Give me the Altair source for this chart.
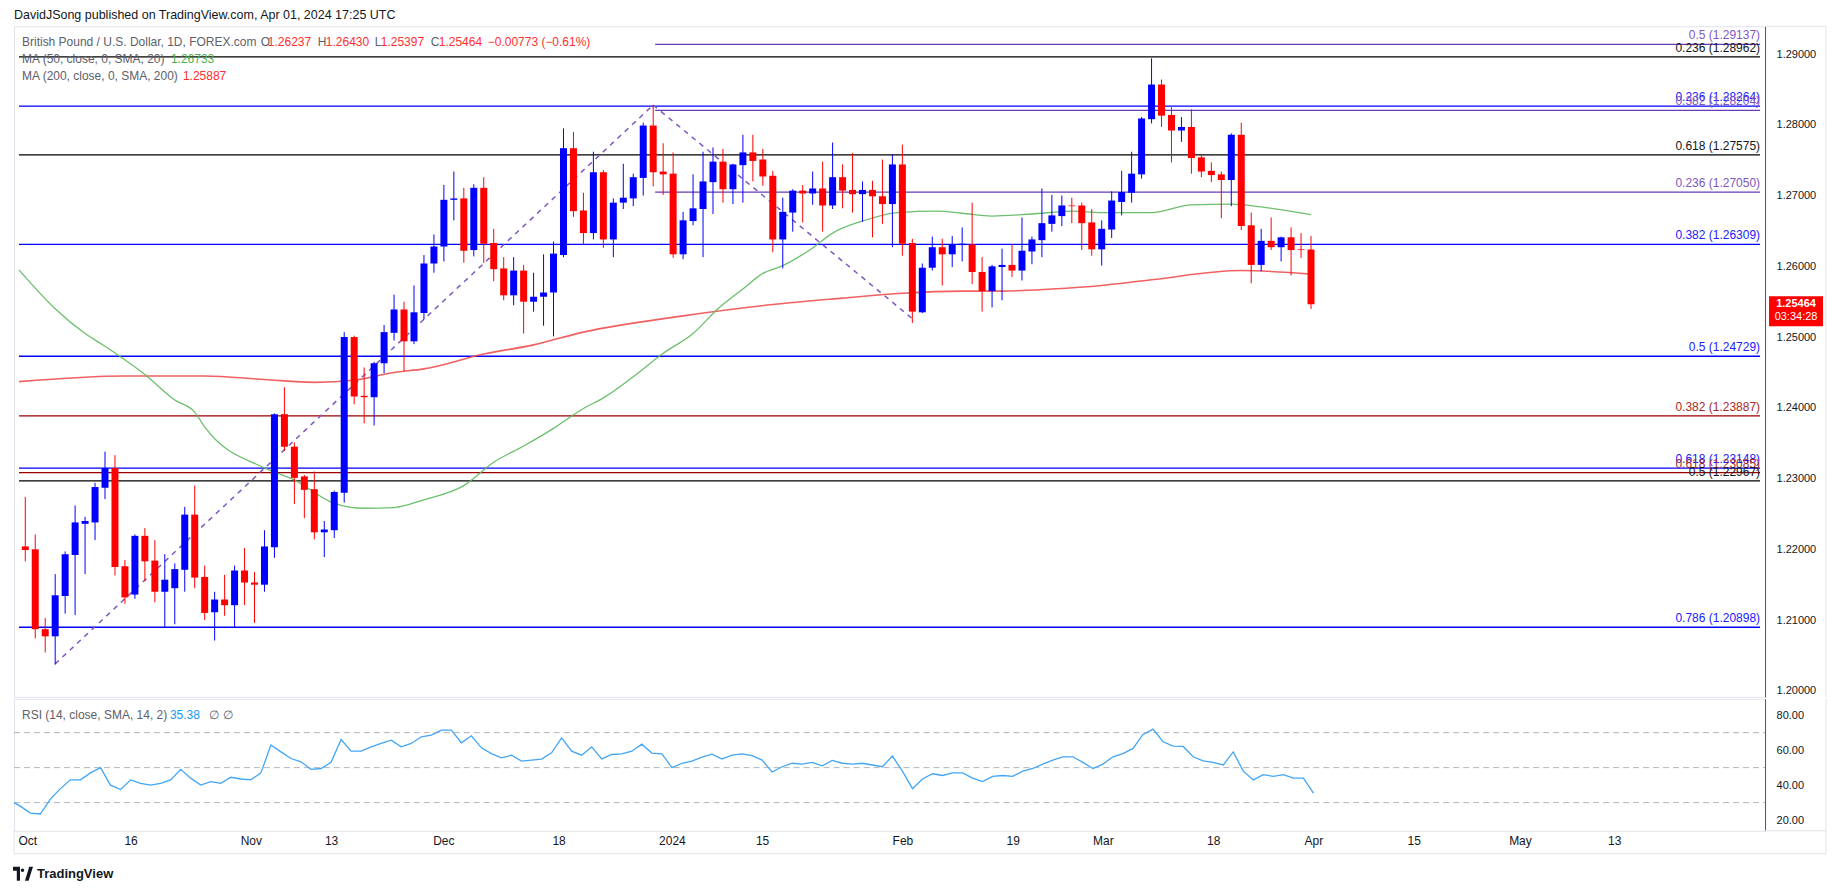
import altair as alt
import pandas as pd

FONT = "Liberation Sans"

# ---------------- data (bar index 0 = 2023-09-29) ----------------
opens = [1.2204, 1.2200, 1.2087, 1.2077, 1.2134, 1.2192, 1.2236, 1.2238, 1.2287, 1.2315,
         1.2176, 1.2136, 1.2219, 1.2184, 1.2140, 1.2145, 1.2171, 1.2249, 1.2161, 1.2111,
         1.2129, 1.2121, 1.2170, 1.2153, 1.2150, 1.2203, 1.2391, 1.2345, 1.2303, 1.2285,
         1.2224, 1.2227, 1.2280, 1.2500, 1.2417, 1.2415, 1.2463, 1.2506, 1.2539, 1.2494,
         1.2534, 1.2604, 1.2628, 1.2694, 1.2696, 1.2623, 1.2711, 1.2633, 1.2597, 1.2559,
         1.2594, 1.2550, 1.2557, 1.2563, 1.2616, 1.2767, 1.2679, 1.2647, 1.2733, 1.2638,
         1.2690, 1.2696, 1.2725, 1.2799, 1.2734, 1.2731, 1.2617, 1.2664, 1.2681, 1.2719,
         1.2748, 1.2709, 1.2743, 1.2761, 1.2751, 1.2728, 1.2638, 1.2676, 1.2707, 1.2703,
         1.2710, 1.2686, 1.2726, 1.2708, 1.2702, 1.2708, 1.2699, 1.2688, 1.2744, 1.2633,
         1.2535, 1.2598, 1.2627, 1.2617, 1.2630, 1.2631, 1.2592, 1.2565, 1.2599, 1.2602,
         1.2594, 1.2621, 1.2637, 1.2660, 1.2671, 1.2686, 1.2686, 1.2662, 1.2624, 1.2652,
         1.2691, 1.2704, 1.2730, 1.2808, 1.2857, 1.2814, 1.2792, 1.2797, 1.2754, 1.2735,
         1.2730, 1.2722, 1.2786, 1.2658, 1.2602, 1.2636, 1.2627, 1.2641, 1.2624, 1.26237]
highs = [1.2274, 1.2221, 1.2103, 1.2165, 1.2197, 1.2262, 1.2246, 1.2294, 1.2338, 1.2333,
         1.2185, 1.2221, 1.2230, 1.2213, 1.2193, 1.2180, 1.2260, 1.2290, 1.2177, 1.2140,
         1.2164, 1.2177, 1.2202, 1.2168, 1.2227, 1.2392, 1.2429, 1.2351, 1.2305, 1.2310,
         1.2240, 1.2283, 1.2507, 1.2502, 1.2457, 1.2465, 1.2517, 1.2560, 1.2550, 1.2573,
         1.2616, 1.2645, 1.2715, 1.2734, 1.2711, 1.2716, 1.2726, 1.2653, 1.2613, 1.2613,
         1.2602, 1.2591, 1.2617, 1.2635, 1.2795, 1.2790, 1.2704, 1.2762, 1.2736, 1.2696,
         1.2745, 1.2731, 1.2803, 1.2828, 1.2774, 1.2761, 1.2677, 1.2730, 1.2762, 1.2768,
         1.2766, 1.2745, 1.2786, 1.2786, 1.2766, 1.2735, 1.2697, 1.2709, 1.2715, 1.2734,
         1.2748, 1.2775, 1.2744, 1.2760, 1.2720, 1.2721, 1.2751, 1.2758, 1.2772, 1.2639,
         1.2604, 1.2642, 1.2639, 1.2643, 1.2655, 1.2690, 1.2613, 1.2602, 1.2625, 1.2631,
         1.2669, 1.2642, 1.2710, 1.2701, 1.2700, 1.2697, 1.2690, 1.2681, 1.2665, 1.2706,
         1.2735, 1.2762, 1.2811, 1.2894, 1.2864, 1.2825, 1.2811, 1.2822, 1.2759, 1.2747,
         1.2734, 1.2788, 1.2803, 1.2676, 1.2653, 1.2669, 1.2642, 1.2655, 1.2647, 1.26430]
lows = [1.2183, 1.2074, 1.2054, 1.2037, 1.2109, 1.2107, 1.2165, 1.2213, 1.2271, 1.2163,
        1.2123, 1.2130, 1.2155, 1.2125, 1.2090, 1.2094, 1.2140, 1.2145, 1.2100, 1.2071,
        1.2106, 1.2090, 1.2121, 1.2096, 1.2140, 1.2188, 1.2339, 1.2264, 1.2244, 1.2214,
        1.2189, 1.2216, 1.2266, 1.2405, 1.2378, 1.2375, 1.2449, 1.2495, 1.2452, 1.2490,
        1.2525, 1.2591, 1.2607, 1.2665, 1.2605, 1.2614, 1.2605, 1.2579, 1.2552, 1.2545,
        1.2505, 1.2536, 1.2516, 1.2501, 1.2613, 1.2670, 1.2631, 1.2638, 1.2626, 1.2613,
        1.2681, 1.2685, 1.2700, 1.2713, 1.2701, 1.2612, 1.2610, 1.2658, 1.2613, 1.2674,
        1.2690, 1.2688, 1.2690, 1.2720, 1.2714, 1.2620, 1.2597, 1.2649, 1.2662, 1.2687,
        1.2649, 1.2681, 1.2682, 1.2676, 1.2663, 1.2641, 1.2660, 1.2627, 1.2615, 1.2520,
        1.2534, 1.2594, 1.2573, 1.2599, 1.2607, 1.2575, 1.2536, 1.2542, 1.2552, 1.2585,
        1.2580, 1.2603, 1.2613, 1.2649, 1.2657, 1.2661, 1.2623, 1.2615, 1.2601, 1.2640,
        1.2672, 1.2690, 1.2724, 1.2802, 1.2797, 1.2747, 1.2776, 1.2731, 1.2726, 1.2719,
        1.2668, 1.2685, 1.2651, 1.2576, 1.2593, 1.2623, 1.2607, 1.2587, 1.2612, 1.25397]
closes = [1.2199, 1.2087, 1.2077, 1.2135, 1.2193, 1.2238, 1.2240, 1.2288, 1.2315, 1.2175,
          1.2132, 1.2219, 1.2183, 1.2140, 1.2157, 1.2172, 1.2249, 1.2160, 1.2110, 1.2129,
          1.2121, 1.2170, 1.2153, 1.2150, 1.2204, 1.2391, 1.2345, 1.2301, 1.2284, 1.2224,
          1.2228, 1.2281, 1.2500, 1.2416, 1.2415, 1.2463, 1.2507, 1.2539, 1.2494, 1.2535,
          1.2604, 1.2628, 1.2694, 1.2696, 1.2622, 1.2711, 1.2632, 1.2596, 1.2559, 1.2594,
          1.2550, 1.2557, 1.2563, 1.2618, 1.2767, 1.2678, 1.2647, 1.2733, 1.2638, 1.2690,
          1.2697, 1.2726, 1.2799, 1.2733, 1.2730, 1.2617, 1.2665, 1.2682, 1.2720, 1.2748,
          1.2709, 1.2744, 1.2761, 1.2749, 1.2727, 1.2638, 1.2677, 1.2707, 1.2703, 1.2710,
          1.2686, 1.2726, 1.2707, 1.2702, 1.2708, 1.2699, 1.2688, 1.2744, 1.2632, 1.2536,
          1.2598, 1.2627, 1.2617, 1.2631, 1.2632, 1.2592, 1.2565, 1.2600, 1.2602, 1.2594,
          1.2622, 1.2638, 1.2661, 1.2672, 1.2686, 1.2685, 1.2661, 1.2624, 1.2653, 1.2693,
          1.2705, 1.2731, 1.2809, 1.2857, 1.2813, 1.2792, 1.2797, 1.2753, 1.2734, 1.2729,
          1.2722, 1.2786, 1.2657, 1.2602, 1.2636, 1.2627, 1.2641, 1.2623, 1.2623, 1.25464]

ma50_idx = [-0.63, 3, 6, 8, 12, 15, 17, 18, 24, 27, 31, 34, 37, 40, 44, 47, 50, 53, 56, 58,
            61, 64, 67, 69.5, 72, 74, 76, 79, 81, 84, 87.5, 91.5, 94, 97, 101, 105, 108,
            113, 117, 121, 124, 129]
ma50_val = [1.2595, 1.2540, 1.2505, 1.2487, 1.2447, 1.2411, 1.2394, 1.2373, 1.2315, 1.2298,
            1.2265, 1.2258, 1.2259, 1.2270, 1.2290, 1.2323, 1.2346, 1.2371, 1.2399, 1.2414,
            1.2444, 1.2477, 1.2505, 1.2540, 1.2568, 1.2590, 1.2601, 1.2626, 1.2647, 1.2664,
            1.2676, 1.2678, 1.2675, 1.2671, 1.2674, 1.2678, 1.2676, 1.2676, 1.2687, 1.2688,
            1.2684, 1.2673]

ma200_idx = [-0.63, 10, 18, 24, 29, 33, 37, 40, 46, 51, 56, 66, 75, 82, 88, 94, 98, 103,
             108, 113, 122, 129]
ma200_val = [1.2437, 1.2445, 1.2445, 1.2440, 1.2436, 1.2439, 1.2450, 1.2455, 1.2476, 1.2489,
             1.2507, 1.2530, 1.2546, 1.2555, 1.2562, 1.2565, 1.2565, 1.2568, 1.2573, 1.2581,
             1.2594, 1.2589]

rsi_idx = [-0.63] + list(range(130))
rsi_val = [30, 28, 24, 23.5, 32, 38, 43, 43, 47, 50, 40, 37.5, 43, 41, 40, 41, 43, 49, 44, 40,
           42, 41, 44.5, 43.5, 43, 47, 62.9, 59, 55.2, 53.3, 49, 49.5, 53, 66.1, 59.4, 59.4,
           61.9, 63.8, 65.7, 61.9, 63.8, 67.6, 68.6, 71.4, 71.4, 64.2, 68.2, 61.3, 58, 55.6,
           57.1, 53.7, 54.3, 54.9, 58.5, 67.0, 59.4, 57.1, 61.9, 55, 57.5, 57.9, 59.4, 63.4,
           58.3, 57.9, 50, 52.5, 53.7, 56, 57.7, 54.9, 57.1, 57.9, 56.8, 54.3, 47.5, 50.5,
           52.5, 52, 53, 51, 54.1, 52.5, 52, 52.5, 51.5, 50.5, 56.6, 48, 38, 43.5, 46.5, 45.5,
           47, 47, 44, 42, 45, 45.5, 45, 48, 49.5, 52, 54.3, 56.2, 56.2, 53, 49.5, 52, 56.2,
           58, 61, 69, 72, 64.8, 62.3, 62.1, 56.2, 53.9, 53, 51.5, 59, 48, 43, 46, 45, 46, 44,
           44, 35.38]

fib_levels = [1.29137, 1.28962, 1.28264, 1.28204, 1.27575, 1.27050, 1.26309, 1.24729,
              1.23887, 1.23148, 1.23085, 1.22967, 1.20898]
fib_labels = ["0.5 (1.29137)", "0.236 (1.28962)", "0.236 (1.28264)", "0.382 (1.28204)",
              "0.618 (1.27575)", "0.236 (1.27050)", "0.382 (1.26309)", "0.5 (1.24729)",
              "0.382 (1.23887)", "0.618 (1.23148)", "0.618 (1.23085)", "0.5 (1.22967)",
              "0.786 (1.20898)"]
fib_start = [63.2, -0.63, -0.63, 63.2, -0.63, 63.2, -0.63, -0.63, -0.63, -0.63, -0.63, -0.63, -0.63]
fib_line_col = ["#673ab7", "#000000", "#0000ff", "#673ab7", "#000000", "#673ab7", "#0000ff",
                "#0000ff", "#990000", "#0000ff", "#990000", "#000000", "#0000ff"]
fib_text_col = ["#7e57c2", "#131722", "#2020ff", "#7e57c2", "#131722", "#7e57c2", "#2020ff",
                "#2020ff", "#a52a2a", "#2020ff", "#a52a2a", "#131722", "#2020ff"]

trend_seg = ["a", "a", "b", "b"]
trend_idx = [3, 63, 63, 89]
trend_val = [1.2038, 1.2828, 1.2828, 1.2526]

price_ticks = [1.20000, 1.20500, 1.21000, 1.21500, 1.22000, 1.22500, 1.23000, 1.23500,
               1.24000, 1.24500, 1.25000, 1.25500, 1.26000, 1.26500, 1.27000, 1.27500,
               1.28000, 1.28500, 1.29000]
rsi_ticks = [20, 40, 60, 80]
rsi_levels = [70, 50, 30]
time_tick_idx = [0.7, 11, 23, 31, 42.2, 53.7, 65, 74, 88, 99, 108, 119, 129, 139, 149.6, 159]
time_tick_lab = ["Oct", "16", "Nov", "13", "Dec", "18", "2024", "15", "Feb", "19", "Mar",
                 "18", "Apr", "15", "May", "13"]

# ---------------- frames ----------------
candles = pd.DataFrame({"i": list(range(130)), "o": opens, "h": highs, "l": lows, "c": closes})
candles["dir"] = ["up" if c >= o else "down" for o, c in zip(opens, closes)]
ma50 = pd.DataFrame({"i": ma50_idx, "v": ma50_val})
ma200 = pd.DataFrame({"i": ma200_idx, "v": ma200_val})
rsi = pd.DataFrame({"i": rsi_idx, "v": rsi_val})
fib = pd.DataFrame({"level": fib_levels, "label": fib_labels, "x0": fib_start,
                    "x1": [174.05] * len(fib_levels), "lc": fib_line_col, "tc": fib_text_col})
trend = pd.DataFrame({"seg": trend_seg, "i": trend_idx, "v": trend_val})
rsi_lv = pd.DataFrame({"v": rsi_levels})
last = pd.DataFrame({"p": [closes[-1]], "txt": ["1.25464"], "cd": ["03:34:28"]})

W = 1752
H_MAIN = 671
H_RSI = 132
FRAME_R = 1813
FRAME = "#e0e3eb"
xs = alt.Scale(domain=[-0.63, 174.05], nice=False, zero=False)
ys = alt.Scale(domain=[1.19914, 1.29394], nice=False, zero=False)
rs = alt.Scale(domain=[13.9, 89.3], nice=False, zero=False)
AX = alt.X("i:Q", scale=xs, axis=None)

def T(txt, sx, sy, color, size=12, weight="normal", top=26, align="left"):
    return alt.Chart(pd.DataFrame({"t": [txt]})).mark_text(
        align=align, baseline="middle", font=FONT, fontSize=size, fontWeight=weight, color=color
    ).encode(x=alt.value(sx - 10), y=alt.value(sy - top), text="t:N")

def R(x1, y1, x2, y2):
    return alt.Chart(pd.DataFrame({"k": [0]})).mark_rule(color=FRAME, strokeWidth=1).encode(
        x=alt.value(x1), y=alt.value(y1), x2=alt.value(x2), y2=alt.value(y2))

GRAY = "#5d606b"
RED = "#ff2e2e"

price_axis = alt.Axis(orient="right", values=price_ticks, format=".5f", grid=False, ticks=False,
                      domain=True, domainColor="#50535e", labelColor="#131722", labelFont=FONT,
                      labelFontSize=11, labelPadding=11, title=None)

fib_rules = alt.Chart(fib).mark_rule(strokeWidth=1.3).encode(
    x=alt.X("x0:Q", scale=xs, axis=None), x2="x1:Q",
    y=alt.Y("level:Q", scale=ys, axis=price_axis), color=alt.Color("lc:N", scale=None))
fib_text = alt.Chart(fib).mark_text(align="right", baseline="bottom", dy=-2, font=FONT, fontSize=12).encode(
    x=alt.value(1747), y=alt.Y("level:Q", scale=ys), text="label:N", color=alt.Color("tc:N", scale=None))
trend_l = alt.Chart(trend).mark_line(strokeDash=[5, 5], strokeWidth=1.5, color="#7e57c2").encode(
    x=AX, y=alt.Y("v:Q", scale=ys), detail="seg:N")
ma200_l = alt.Chart(ma200).mark_line(color="#f05050", strokeWidth=1.6, interpolate="monotone", opacity=0.9).encode(
    x=AX, y=alt.Y("v:Q", scale=ys))
ma50_l = alt.Chart(ma50).mark_line(color="#5cb85c", strokeWidth=1.3, interpolate="monotone", opacity=0.9).encode(
    x=AX, y=alt.Y("v:Q", scale=ys))
ccol = alt.Color("dir:N", scale=alt.Scale(domain=["up", "down"], range=["#0000ff", "#ff0000"]), legend=None)
wick = alt.Chart(candles).mark_rule(strokeWidth=1).encode(x=AX, y=alt.Y("l:Q", scale=ys), y2="h:Q", color=ccol)
body = alt.Chart(candles).mark_bar(size=7, strokeWidth=0).encode(x=AX, y=alt.Y("o:Q", scale=ys), y2="c:Q", color=ccol)

tag_box = alt.Chart(last).mark_point(shape="M -1 -0.556 L 1 -0.556 L 1 0.556 L -1 0.556 Z", filled=True,
                                     size=2916, color="#ff0000", opacity=1, strokeWidth=0, yOffset=7).encode(
    x=alt.value(1783), y=alt.Y("p:Q", scale=ys))
tag_t1 = alt.Chart(last).mark_text(color="white", font=FONT, fontSize=11, fontWeight="bold").encode(
    x=alt.value(1783), y=alt.Y("p:Q", scale=ys), text="txt:N")
tag_t2 = alt.Chart(last).mark_text(color="white", font=FONT, fontSize=11, dy=13).encode(
    x=alt.value(1783), y=alt.Y("p:Q", scale=ys), text="cd:N")

head = [
    T("DavidJSong published on TradingView.com, Apr 01, 2024 17:25 UTC", 10, 15, "#131722", 12.5),
    T("British Pound / U.S. Dollar, 1D, FOREX.com", 18, 42, GRAY),
    T("O", 257, 42, GRAY), T("1.26237", 264, 42, RED),
    T("H", 314, 42, GRAY), T("1.26430", 322, 42, RED),
    T("L", 371, 42, GRAY), T("1.25397", 377, 42, RED),
    T("C", 427, 42, GRAY), T("1.25464", 435, 42, RED),
    T("\u22120.00773 (\u22120.61%)", 484, 42, RED),
    T("MA (50, close, 0, SMA, 20)", 18, 59, GRAY), T("1.26733", 167, 59, "#4caf50"),
    T("MA (200, close, 0, SMA, 200)", 18, 75.5, GRAY), T("1.25887", 179, 75.5, RED),
]
frame_top = [R(W, 0, FRAME_R, 0), R(FRAME_R, 0, FRAME_R, H_MAIN)]

main = alt.layer(*frame_top, fib_rules, fib_text, trend_l, ma200_l, ma50_l, wick, body, tag_box,
                 tag_t1, tag_t2, *head).properties(width=W, height=H_MAIN)

# ---------------- RSI pane ----------------
time_axis = alt.Axis(values=time_tick_idx, grid=False, ticks=False, domain=False, labelColor="#131722",
                     labelFont=FONT, labelFontSize=12, labelPadding=5, labelFlush=False, labelOverlap=False,
                     labelExpr="%s[indexof(%s, datum.value)]" % (str(time_tick_lab), str(time_tick_idx)),
                     title=None)
rsi_axis = alt.Axis(orient="right", values=rsi_ticks, format=".2f", grid=False, ticks=False, domain=True,
                    domainColor="#50535e", labelColor="#131722", labelFont=FONT, labelFontSize=11,
                    labelPadding=11, title=None)
lv = alt.Chart(rsi_lv).mark_rule(strokeDash=[6, 4], color="#b2b5be", strokeWidth=1).encode(
    y=alt.Y("v:Q", scale=rs, axis=rsi_axis), x=alt.value(0), x2=alt.value(W))
rsi_l = alt.Chart(rsi).mark_line(color="#42a5f5", strokeWidth=1.3).encode(
    x=alt.X("i:Q", scale=xs, axis=time_axis), y=alt.Y("v:Q", scale=rs))

LOGO = ("M -1 -0.7 L -0.3 -0.7 L -0.3 0.7 L -0.62 0.7 L -0.62 -0.3 L -1 -0.3 Z "
        "M -0.22 -0.35 A 0.17 0.17 0 1 0 0.12 -0.35 A 0.17 0.17 0 1 0 -0.22 -0.35 Z "
        "M 0.2 0.7 L 0.62 -0.7 L 1 -0.7 L 0.56 0.7 Z")
logo = alt.Chart(pd.DataFrame({"k": [0]})).mark_point(shape=LOGO, filled=True, size=400, color="#131722",
                                                       opacity=1, strokeWidth=0).encode(
    x=alt.value(19 - 10), y=alt.value(872 - 697))
rsi_head = [
    T("RSI (14, close, SMA, 14, 2)", 18, 713, GRAY, top=697),
    T("35.38", 166, 713, "#2196f3", top=697),
    T("\u2205", 205, 713, GRAY, top=697), T("\u2205", 219, 713, GRAY, top=697),
    T("TradingView", 33, 872, "#131722", 13, "bold", top=697),
]
frame_bot = [R(FRAME_R, 0, FRAME_R, 155), R(0, 155, FRAME_R, 155), R(0, H_RSI, 0, 155),
             R(W, H_RSI, FRAME_R, H_RSI)]
lower = alt.layer(*frame_bot, lv, rsi_l, logo, *rsi_head).properties(width=W, height=H_RSI)

chart = alt.vconcat(main, lower, spacing=0).properties(
    padding={"left": 2, "top": 0, "right": 0, "bottom": 0}, background="white"
).configure_view(stroke=FRAME, strokeWidth=1)

chart.save("out.html", embed_options={"renderer": "svg", "actions": False})
